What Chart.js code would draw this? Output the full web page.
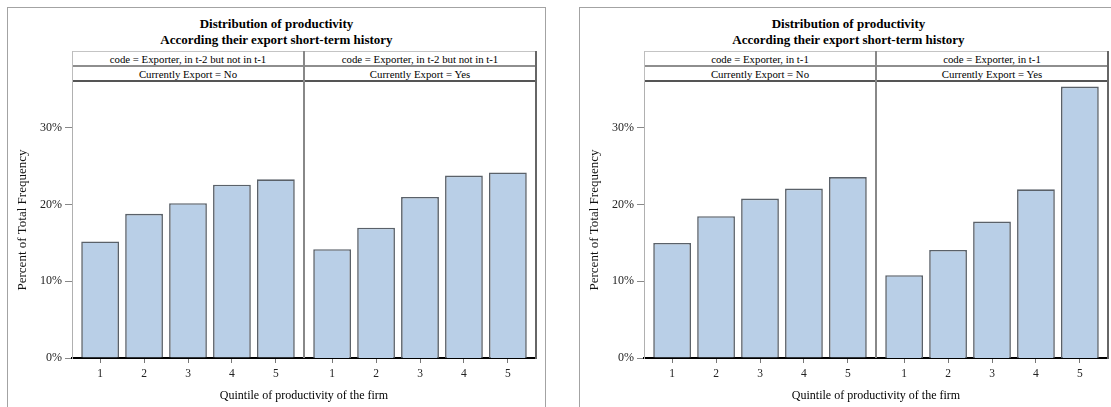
<!DOCTYPE html>
<html>
<head>
<meta charset="utf-8">
<script src="https://cdn.jsdelivr.net/npm/chart.js@4/dist/chart.umd.min.js"></script>
<style>
  body { margin: 0; width: 1111px; height: 407px; overflow: hidden; position: relative; background: #fff; font-family: "Liberation Serif", "DejaVu Serif", serif; color: #000; }
  .abs { position: absolute; box-sizing: border-box; }
  .panel { border: 1px solid #a3a3a3; }
  .title { text-align: center; font-weight: bold; font-size: 13px; line-height: 16px; }
  .strip { text-align: center; font-size: 10.8px; background: #fff; white-space: nowrap; }
  .xtitle { font-size: 12px; text-align: center; white-space: nowrap; }
  canvas { position: absolute; }
</style>
</head>
<body>
<script>
"use strict";

const quintiles = ["1", "2", "3", "4", "5"];
const yTicks = [0, 10, 20, 30];
const titleLines = ["Distribution of productivity", "According their export short-term history"];
const codeLabels = ["code = Exporter, in t-2 but not in t-1", "code = Exporter, in t-1"];
const exportLabels = ["Currently Export = No", "Currently Export = Yes"];
const xTitle = "Quintile of productivity of the firm";
const yTitle = "Percent of Total Frequency";

// percent of total frequency per quintile
const t2NoPct  = [15.2, 18.8, 20.2, 22.6, 23.3];
const t2YesPct = [14.2, 17.0, 21.0, 23.8, 24.2];
const t1NoPct  = [15.0, 18.5, 20.8, 22.1, 23.6];
const t1YesPct = [10.8, 14.1, 17.8, 22.0, 35.4];

const serif = '"Liberation Serif", "DejaVu Serif", serif';

function addDiv(cls, left, top, width, height, css, text) {
    const d = document.createElement("div");
    d.className = "abs " + cls;
    Object.assign(d.style, { left: left + "px", top: top + "px", width: width + "px", height: height + "px" }, css || {});
    if (text) d.textContent = text;
    document.body.appendChild(d);
    return d;
}

function subChart(left, width, values, withY) {
    const canvas = document.createElement("canvas");
    canvas.width = width;
    canvas.height = 325;
    canvas.style.left = left + "px";
    canvas.style.top = "82px";
    document.body.appendChild(canvas);

    return new Chart(canvas.getContext("2d"), {
        type: "bar",
        data: {
            labels: quintiles,
            datasets: [{
                data: values,
                backgroundColor: "#b9cfe7",
                borderColor: "#5a6169",
                borderWidth: 1.6,
                categoryPercentage: 1,
                barPercentage: 0.86
            }]
        },
        options: {
            responsive: false,
            animation: false,
            layout: { padding: 0 },
            plugins: { legend: { display: false }, tooltip: { enabled: false } },
            scales: {
                x: {
                    type: "linear",
                    offset: false,
                    min: 0.36,
                    max: 5.64,
                    afterBuildTicks: (axis) => { axis.ticks = quintiles.map((q, i) => ({ value: i + 1 })); },
                    afterFit: (axis) => { axis.height = 49; axis.paddingLeft = 0; axis.paddingRight = 0; },
                    ticks: {
                        callback: (v, i) => quintiles[i],
                        font: { family: serif, size: 11.5 },
                        color: "#222",
                        padding: 4,
                        maxRotation: 0
                    },
                    grid: { offset: false, drawOnChartArea: false, tickLength: 5, color: "#777" },
                    border: { color: "#000", width: 2 }
                },
                y: {
                    display: withY,
                    min: 0,
                    max: 36,
                    afterBuildTicks: (axis) => { axis.ticks = yTicks.map(v => ({ value: v })); },
                    afterFit: (axis) => { axis.width = withY ? 64 : 0; axis.paddingTop = 0; axis.paddingBottom = 0; },
                    ticks: {
                        callback: (v) => v + "%",
                        font: { family: serif, size: 12 },
                        color: "#222",
                        padding: 3
                    },
                    grid: { drawOnChartArea: false, tickLength: 7, color: "#888" },
                    border: { color: "#b0b0b0", width: 1 },
                    title: {
                        display: true,
                        text: yTitle,
                        font: { family: serif, size: 13 },
                        color: "#111",
                        padding: { top: 7, bottom: 0 }
                    }
                }
            }
        }
    });
}

function panel(dx, code, noValues, yesValues) {
    addDiv("panel", 7 + dx, 7, 539, 430);
    addDiv("title", 7 + dx, 16, 539, 32).innerHTML = titleLines.join("<br>");

    [72, 304].forEach((x, s) => {
        addDiv("strip", x + dx, 52, 232, 14, { lineHeight: "14px" }, code);
        addDiv("strip", x + dx, 66, 232, 15, { lineHeight: "16px" }, exportLabels[s]);
    });

    subChart(8 + dx, 296, noValues, true);
    subChart(304 + dx, 232, yesValues, false);

    // strip rules and plot frame
    addDiv("", 72 + dx, 51, 465, 1, { background: "#c4c4c4" });
    addDiv("", 72 + dx, 65, 465, 2, { background: "#8e8e8e" });
    addDiv("", 72 + dx, 80, 465, 2, { background: "#555" });
    addDiv("", 72 + dx, 51, 1, 31, { background: "#bdbdbd" });
    addDiv("", 303 + dx, 51, 2, 307, { background: "#888" });
    addDiv("", 535 + dx, 51, 2, 308, { background: "#666" });

    addDiv("xtitle", 104 + dx, 387, 400, 16, { lineHeight: "16px" }, xTitle);
}

panel(0, codeLabels[0], t2NoPct, t2YesPct);
panel(572, codeLabels[1], t1NoPct, t1YesPct);
</script>
</body>
</html>
